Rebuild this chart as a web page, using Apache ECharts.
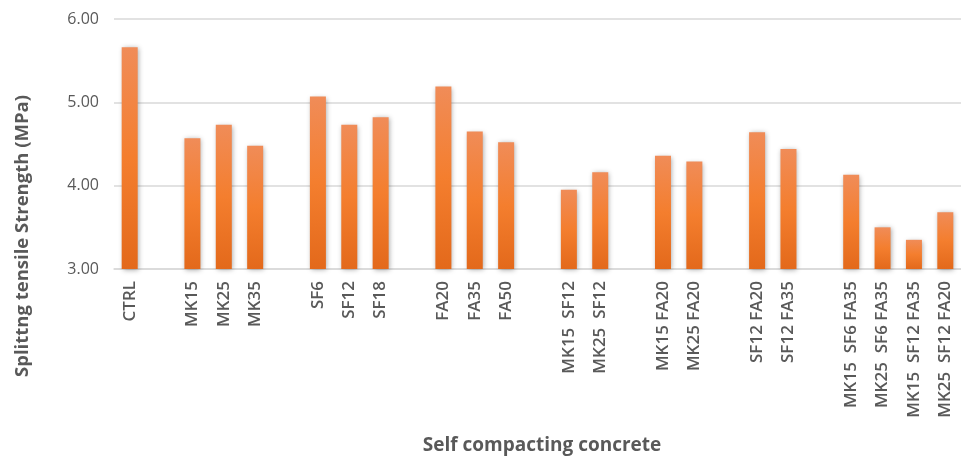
<!DOCTYPE html>
<html>
<head>
<meta charset="utf-8">
<script src="https://cdn.jsdelivr.net/npm/echarts@6/dist/echarts.min.js"></script>
<style>
  html, body { margin: 0; padding: 0; background: #fff; }
  #chart { width: 961px; height: 459px; }
</style>
</head>
<body>
<div id="chart"></div>
<script>
// Mix designs; empty strings are spacer slots between the mix families
const categories = [
  'CTRL', '',
  'MK15', 'MK25', 'MK35', '',
  'SF6', 'SF12', 'SF18', '',
  'FA20', 'FA35', 'FA50', '',
  'MK15  SF12', 'MK25  SF12', '',
  'MK15 FA20', 'MK25 FA20', '',
  'SF12 FA20', 'SF12 FA35', '',
  'MK15  SF6 FA35', 'MK25  SF6 FA35', 'MK15  SF12 FA35', 'MK25  SF12 FA20'
];

// Splitting tensile strength, MPa ('-' = spacer, no bar)
const strength = [
  5.66, '-',
  4.57, 4.73, 4.48, '-',
  5.07, 4.73, 4.82, '-',
  5.19, 4.65, 4.52, '-',
  3.95, 4.16, '-',
  4.36, 4.29, '-',
  4.64, 4.44, '-',
  4.13, 3.50, 3.35, 3.68
];

const yTicks = { min: 3, max: 6, step: 1 };

const textGrey = '#595959';
const gridGrey = '#D9D9D9';
const fontFamily = '"Open Sans", "Noto Sans", sans-serif';

const chart = echarts.init(document.getElementById('chart'), null, { renderer: 'canvas' });

chart.setOption({
  animation: false,
  backgroundColor: '#ffffff',
  grid: { left: 114, top: 19, width: 857, height: 250, containLabel: false },
  xAxis: {
    type: 'category',
    data: categories,
    boundaryGap: true,
    axisLine: { show: true, lineStyle: { color: gridGrey, width: 1.5 } },
    axisTick: { show: false },
    axisLabel: {
      interval: 0,
      rotate: 90,
      margin: 12,
      color: textGrey,
      fontFamily: fontFamily,
      fontSize: 17,
      fontWeight: 600
    }
  },
  yAxis: {
    type: 'value',
    min: yTicks.min,
    max: yTicks.max,
    interval: yTicks.step,
    axisLine: { show: false },
    axisTick: { show: false },
    splitLine: { lineStyle: { color: gridGrey, width: 1.5 } },
    axisLabel: {
      margin: 15,
      color: textGrey,
      fontFamily: fontFamily,
      fontSize: 16,
      formatter: v => v.toFixed(2)
    }
  },
  series: [{
    type: 'bar',
    data: strength,
    barWidth: 16,
    itemStyle: {
      color: new echarts.graphic.LinearGradient(0, 0, 0, 1, [
        { offset: 0, color: '#F08C58' },
        { offset: 0.5, color: '#F47E2E' },
        { offset: 1, color: '#E3691B' }
      ]),
      shadowColor: 'rgba(0,0,0,0.35)',
      shadowBlur: 5,
      shadowOffsetX: 1,
      shadowOffsetY: 1
    }
  }],
  graphic: [
    {
      type: 'text',
      x: 23,
      y: 236,
      rotation: Math.PI / 2,
      style: {
        text: 'Splittng tensile Strength (MPa)',
        fill: textGrey,
        font: 'bold 18.5px ' + fontFamily,
        textAlign: 'center',
        textVerticalAlign: 'middle'
      }
    },
    {
      type: 'text',
      x: 542,
      y: 446,
      style: {
        text: 'Self compacting concrete',
        fill: textGrey,
        font: 'bold 19px ' + fontFamily,
        textAlign: 'center',
        textVerticalAlign: 'middle'
      }
    }
  ]
});
</script>
</body>
</html>
